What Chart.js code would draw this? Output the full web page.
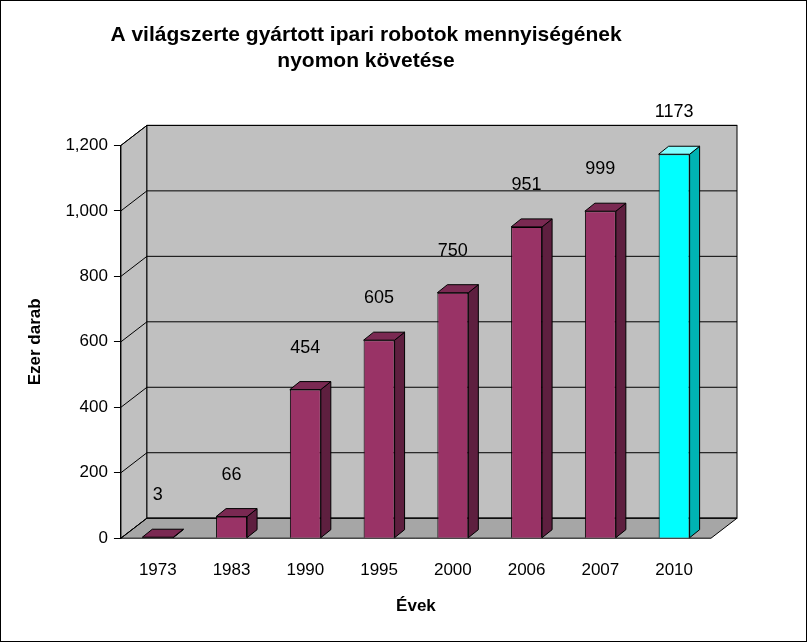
<!DOCTYPE html>
<html lang="hu">
<head>
<meta charset="UTF-8">
<title>Ipari robotok</title>
<script src="https://cdn.jsdelivr.net/npm/chart.js"></script>
<style>
  body { margin: 0; background: #fff; }
  .box { width: 807px; height: 642px; box-sizing: border-box; border: 1px solid #000; }
</style>
</head>
<body>
<div class="box"><canvas id="robots" width="805" height="640"></canvas></div>
<script>
const years = ['1973', '1983', '1990', '1995', '2000', '2006', '2007', '2010'];
const robots = [3, 66, 454, 605, 750, 951, 999, 1173];
const yTicks = [0, 200, 400, 600, 800, 1000, 1200];

const DX = 26, DY = -20;  // depth offset of the 3D walls

function shade(i, front, side, top) {
  return i === years.length - 1 ? [ '#00ffff', '#00b3b3', '#80ffff' ][[front, side, top].indexOf(true)] : null;
}

// walls, floor and grid behind the bars
const walls = {
  id: 'walls',
  beforeDatasetsDraw(chart) {
    const { ctx, chartArea: a, scales: { y } } = chart;
    ctx.save();
    ctx.strokeStyle = '#000';
    ctx.lineWidth = 1;
    // side wall
    ctx.fillStyle = '#c0c0c0';
    ctx.beginPath();
    ctx.moveTo(a.left, a.top); ctx.lineTo(a.left + DX, a.top + DY);
    ctx.lineTo(a.left + DX, a.bottom + DY); ctx.lineTo(a.left, a.bottom);
    ctx.closePath(); ctx.fill(); ctx.stroke();
    // back wall
    ctx.fillRect(a.left + DX, a.top + DY, a.right - a.left, a.bottom - a.top);
    ctx.strokeRect(a.left + DX, a.top + DY, a.right - a.left, a.bottom - a.top);
    // floor
    ctx.fillStyle = '#a6a6a6';
    ctx.beginPath();
    ctx.moveTo(a.left, a.bottom); ctx.lineTo(a.left + DX, a.bottom + DY);
    ctx.lineTo(a.right + DX, a.bottom + DY); ctx.lineTo(a.right, a.bottom);
    ctx.closePath(); ctx.fill(); ctx.stroke();
    // grid lines
    yTicks.forEach(v => {
      const py = y.getPixelForValue(v);
      ctx.beginPath();
      ctx.moveTo(a.left, py);
      ctx.lineTo(a.left + DX, py + DY);
      ctx.lineTo(a.right + DX, py + DY);
      ctx.stroke();
    });
    ctx.restore();
  },
  afterDatasetsDraw(chart) {
    const { ctx } = chart;
    const meta = chart.getDatasetMeta(0);
    ctx.save();
    ctx.strokeStyle = '#000';
    ctx.lineWidth = 1;
    const d = 10, e = -8;
    meta.data.forEach((bar, i) => {
      const l = bar.x - bar.width / 2, r = bar.x + bar.width / 2;
      const t = bar.y, b = bar.base;
      const last = i === years.length - 1;
      // side
      ctx.fillStyle = last ? '#00b3b3' : '#5e1f3f';
      ctx.beginPath();
      ctx.moveTo(r, t); ctx.lineTo(r + d, t + e); ctx.lineTo(r + d, b + e); ctx.lineTo(r, b);
      ctx.closePath(); ctx.fill(); ctx.stroke();
      // top
      ctx.fillStyle = last ? '#80ffff' : '#7a2952';
      ctx.beginPath();
      ctx.moveTo(l, t); ctx.lineTo(l + d, t + e); ctx.lineTo(r + d, t + e); ctx.lineTo(r, t);
      ctx.closePath(); ctx.fill(); ctx.stroke();
      // value label
      ctx.fillStyle = '#000';
      ctx.font = '18px "Liberation Sans", Arial';
      ctx.textAlign = 'center';
      ctx.textBaseline = 'middle';
      ctx.fillText(String(robots[i]), bar.x, t - 42);
    });
    ctx.restore();
  }
};

new Chart(document.getElementById('robots'), {
  type: 'bar',
  data: {
    labels: years,
    datasets: [{
      data: robots,
      backgroundColor: robots.map((v, i) => i === years.length - 1 ? '#00ffff' : '#993366'),
      borderColor: '#000',
      borderWidth: 1,
      barPercentage: 0.42,
      categoryPercentage: 1
    }]
  },
  options: {
    responsive: false,
    animation: false,
    layout: { padding: { left: 20, right: 95, bottom: 20 } },
    plugins: {
      legend: { display: false },
      tooltip: { enabled: false },
      title: {
        display: true,
        text: ['A világszerte gyártott ipari robotok mennyiségének', 'nyomon követése'],
        color: '#000',
        font: { family: '"Liberation Sans", Arial', size: 21, weight: 'bold' },
        padding: { top: 22, bottom: 72 }
      }
    },
    scales: {
      x: {
        grid: { display: false },
        border: { display: false },
        ticks: { color: '#000', font: { family: '"Liberation Sans", Arial', size: 17 }, padding: 14 },
        title: { display: true, text: 'Évek', color: '#000', font: { family: '"Liberation Sans", Arial', size: 17, weight: 'bold' }, padding: { top: 2 } }
      },
      y: {
        min: 0, max: 1200,
        afterBuildTicks: ax => { ax.ticks = yTicks.map(v => ({ value: v })); },
        grid: { drawOnChartArea: false, tickLength: 7, color: '#000' },
        border: { color: '#000' },
        ticks: { color: '#000', font: { family: '"Liberation Sans", Arial', size: 17 }, padding: 6 },
        title: { display: true, text: 'Ezer darab', color: '#000', font: { family: '"Liberation Sans", Arial', size: 17, weight: 'bold' }, padding: { bottom: 14 } }
      }
    }
  },
  plugins: [walls]
});
</script>
</body>
</html>
